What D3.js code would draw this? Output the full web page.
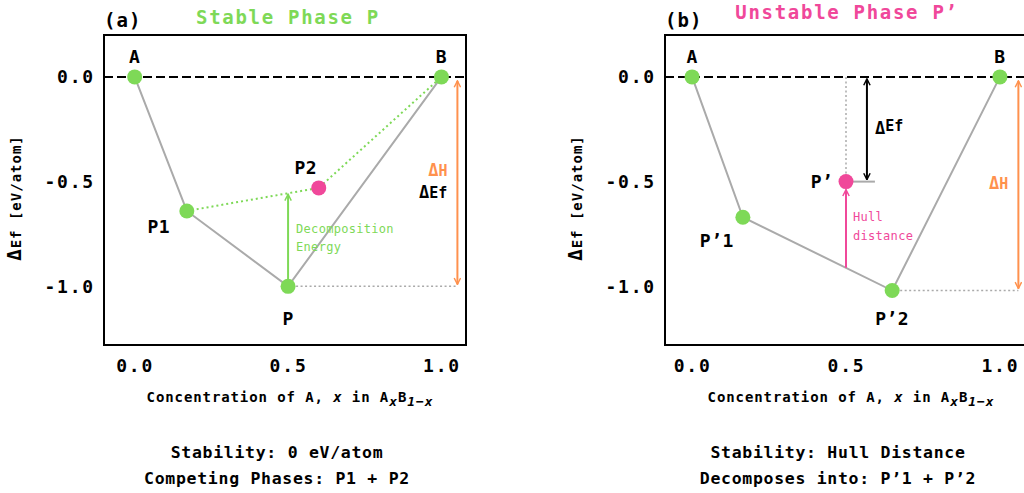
<!DOCTYPE html>
<html>
<head>
<meta charset="utf-8">
<script src="https://cdn.jsdelivr.net/npm/d3@7"></script>
<style>
  html, body { margin: 0; padding: 0; background: #ffffff; }
  svg { display: block; }
  text { font-family: "DejaVu Sans Mono", "Liberation Mono", monospace; font-weight: bold; }
</style>
</head>
<body>
<svg id="chart" width="1024" height="493"></svg>
<script>
// ---- data ----
// (a) stable phase P
const namesA = ["A", "P1", "P2", "P", "B"];
const xA = [0, 0.17, 0.6, 0.5, 1];
const yA = [0, -0.64, -0.53, -1.0, 0];
const hullA = ["A", "P1", "P", "B"];
const competingA = ["P1", "P2", "B"];
// (b) unstable phase P'
const namesB = ["A", "P’1", "P’", "P’2", "B"];
const xB = [0, 0.165, 0.5, 0.65, 1];
const yB = [0, -0.67, -0.5, -1.02, 0];
const hullB = ["A", "P’1", "P’2", "B"];
// axis ticks
const xTicks = [0, 0.5, 1.0];
const yTicks = [0, -0.5, -1.0];
// annotation positions (x in composition units)
const deltaHxA = 1.052;
const deltaHxB = 1.06;
const deltaEfxB = 0.568;

const GREEN = "#7ed957", PINK = "#f0489a", ORANGE = "#ff914d", GRAY = "#aaaaaa";

const svg = d3.select("#chart");
const defs = svg.append("defs");
function chevron(id, color) {
  defs.append("marker")
    .attr("id", id).attr("viewBox", "0 0 10 10")
    .attr("refX", 9).attr("refY", 5)
    .attr("markerWidth", 8).attr("markerHeight", 8)
    .attr("markerUnits", "userSpaceOnUse")
    .attr("orient", "auto-start-reverse")
    .append("path").attr("d", "M1,1 L9,5 L1,9")
    .attr("fill", "none").attr("stroke", color).attr("stroke-width", 1.8);
}
chevron("arrGreen", GREEN);
chevron("arrPink", PINK);
chevron("arrOrange", ORANGE);
chevron("arrBlack", "#000");

function pointsOf(names, xs, ys) {
  return names.map((n, i) => ({ name: n, x: xs[i], y: ys[i] }));
}

function drawPanel(opt) {
  const g = svg.append("g");
  const x = d3.scaleLinear().domain(opt.xDomain).range([opt.left, opt.left + 362]);
  const y = d3.scaleLinear().domain([-1.28, 0.2]).range([345, 35]);
  const pts = pointsOf(opt.names, opt.xs, opt.ys);
  const byName = new Map(pts.map(p => [p.name, p]));
  const line = d3.line().x(d => x(d.x)).y(d => y(d.y));

  // clip everything to the plot frame
  const clipId = "clip" + opt.tag;
  defs.append("clipPath").attr("id", clipId)
    .append("rect").attr("x", opt.left).attr("y", 35).attr("width", 362).attr("height", 310);
  const plot = g.append("g").attr("clip-path", `url(#${clipId})`);

  // y = 0 reference line
  plot.append("line")
    .attr("x1", x.range()[0]).attr("x2", x.range()[1])
    .attr("y1", y(0)).attr("y2", y(0))
    .attr("stroke", "#000").attr("stroke-width", 2).attr("stroke-dasharray", "9,4");

  // convex hull
  plot.append("path").datum(opt.hull.map(n => byName.get(n)))
    .attr("d", line).attr("fill", "none").attr("stroke", GRAY).attr("stroke-width", 2);

  opt.extra(plot, x, y, byName, line);

  // phase points
  plot.selectAll("circle.pt").data(pts).join("circle")
    .attr("class", "pt")
    .attr("cx", d => x(d.x)).attr("cy", d => y(d.y)).attr("r", 7.5)
    .attr("fill", d => opt.pink.includes(d.name) ? PINK : GREEN);

  // point labels
  g.selectAll("text.pl").data(pts).join("text")
    .attr("class", "pl")
    .attr("x", d => x(d.x) + opt.labelOff[d.name][0])
    .attr("y", d => y(d.y) + opt.labelOff[d.name][1])
    .attr("text-anchor", "middle").attr("dominant-baseline", "central")
    .attr("font-size", 18).attr("fill", "#000").attr("letter-spacing", 0.5)
    .text(d => d.name);

  // frame
  g.append("rect").attr("x", opt.left).attr("y", 35).attr("width", 362).attr("height", 310)
    .attr("fill", "none").attr("stroke", "#000").attr("stroke-width", 2);

  // tick labels (no tick marks)
  const xAxis = d3.axisBottom(x).tickValues(xTicks).tickFormat(d3.format(".1f")).tickSize(0).tickPadding(14);
  const gx = g.append("g").attr("transform", "translate(0,345)").call(xAxis);
  const yAxis = d3.axisLeft(y).tickValues(yTicks).tickFormat(d => d3.format(".1f")(d).replace("−", "-")).tickSize(0).tickPadding(9);
  const gy = g.append("g").attr("transform", `translate(${opt.left},0)`).call(yAxis);
  [gx, gy].forEach(a => {
    a.select(".domain").remove();
    a.selectAll("text").attr("font-size", 18).attr("letter-spacing", 1.8)
      .attr("font-family", "'DejaVu Sans Mono', monospace").attr("font-weight", "bold").attr("fill", "#000");
  });

  // x axis title
  const xt = g.append("text").attr("x", opt.left + 186).attr("y", 402)
    .attr("text-anchor", "middle").attr("font-size", 14).attr("letter-spacing", 0.9);
  xt.append("tspan").text("Concentration of A, ");
  xt.append("tspan").attr("font-style", "italic").text("x");
  xt.append("tspan").text(" in A");
  xt.append("tspan").attr("font-style", "italic").attr("dy", 4).attr("font-size", 13).text("x");
  xt.append("tspan").attr("dy", -4).text("B");
  xt.append("tspan").attr("font-style", "italic").attr("dy", 4).attr("font-size", 13).text("1−x");

  // y axis title
  const yt = g.append("text")
    .attr("transform", `translate(${opt.left - 83},198) rotate(-90)`)
    .attr("text-anchor", "middle").attr("font-size", 14).attr("letter-spacing", 1);
  yt.append("tspan").attr("font-size", 19).text("Δ");
  yt.append("tspan").attr("font-size", 14).text("Ef [eV/atom]");

  // panel tag and title
  g.append("text").attr("x", opt.left).attr("y", 27).attr("font-size", 19).attr("letter-spacing", 1).text(opt.tagText);
  g.append("text").attr("x", opt.titleX).attr("y", opt.titleY).attr("text-anchor", "middle")
    .attr("font-size", 19).attr("letter-spacing", 1.7).attr("fill", opt.titleColor).text(opt.title);

  // summary lines
  opt.summary.forEach((s, i) => {
    g.append("text").attr("x", opt.left + 173).attr("y", 458 + i * 26)
      .attr("text-anchor", "middle").attr("font-size", 16.5).attr("letter-spacing", 0.7).text(s);
  });
}

// ---- (a) ----
drawPanel({
  tag: "a", tagText: "(a)", left: 104, xDomain: [-0.1, 1.08],
  names: namesA, xs: xA, ys: yA, hull: hullA, pink: ["P2"],
  title: "Stable Phase P", titleColor: GREEN, titleX: 288, titleY: 24,
  labelOff: { "A": [0, -20], "B": [0, -20], "P1": [-28, 16], "P2": [-13, -20], "P": [0, 32] },
  summary: ["Stability: 0 eV/atom", "Competing Phases: P1 + P2"],
  extra(plot, x, y, byName, line) {
    const P = byName.get("P"), P1 = byName.get("P1"), P2 = byName.get("P2");
    // competing-phase tie line
    plot.append("path").datum(competingA.map(n => byName.get(n)))
      .attr("d", line).attr("fill", "none").attr("stroke", GREEN)
      .attr("stroke-width", 2).attr("stroke-dasharray", "2,3");
    // level of P, extended to the ΔH arrow
    plot.append("line").attr("x1", x(P.x) + 8).attr("x2", x(deltaHxA))
      .attr("y1", y(P.y)).attr("y2", y(P.y))
      .attr("stroke", GRAY).attr("stroke-width", 1.5).attr("stroke-dasharray", "2,2.5");
    // decomposition energy arrow up to the P1–P2 tie line
    const tieY = P1.y + (P.x - P1.x) / (P2.x - P1.x) * (P2.y - P1.y);
    plot.append("line").attr("x1", x(P.x)).attr("x2", x(P.x))
      .attr("y1", y(P.y)).attr("y2", y(tieY) + 1)
      .attr("stroke", GREEN).attr("stroke-width", 2).attr("marker-end", "url(#arrGreen)");
    const dt = plot.append("text").attr("fill", GREEN).attr("font-size", 12)
      .attr("letter-spacing", 0.3).style("font-weight", "normal");
    dt.append("tspan").attr("x", x(P.x) + 8).attr("y", 233).text("Decomposition");
    dt.append("tspan").attr("x", x(P.x) + 8).attr("y", 251).text("Energy");
    // ΔH arrow
    plot.append("line").attr("x1", x(deltaHxA)).attr("x2", x(deltaHxA))
      .attr("y1", y(0) + 4).attr("y2", y(P.y) - 2)
      .attr("stroke", ORANGE).attr("stroke-width", 2)
      .attr("marker-start", "url(#arrOrange)").attr("marker-end", "url(#arrOrange)");
    const hx = x(deltaHxA) - 10;
    const h = plot.append("text").attr("x", hx).attr("y", 176).attr("text-anchor", "end").attr("fill", ORANGE).attr("font-size", 17);
    h.append("tspan").text("Δ"); h.append("tspan").attr("font-size", 15).text("H");
    const e = plot.append("text").attr("x", hx).attr("y", 198).attr("text-anchor", "end").attr("fill", "#000").attr("font-size", 17);
    e.append("tspan").text("Δ"); e.append("tspan").attr("font-size", 15).text("Ef");
  }
});

// ---- (b) ----
drawPanel({
  tag: "b", tagText: "(b)", left: 665, xDomain: [-0.088, 1.088],
  names: namesB, xs: xB, ys: yB, hull: hullB, pink: ["P’"],
  title: "Unstable Phase P’", titleColor: PINK, titleX: 847, titleY: 19,
  labelOff: { "A": [0, -20], "B": [0, -20], "P’1": [-26, 23], "P’": [-24, 0], "P’2": [0, 28] },
  summary: ["Stability: Hull Distance", "Decomposes into: P’1 + P’2"],
  extra(plot, x, y, byName, line) {
    const Pp = byName.get("P’"), P1 = byName.get("P’1"), P2 = byName.get("P’2");
    // formation energy guide lines
    plot.append("line").attr("x1", x(Pp.x)).attr("x2", x(Pp.x))
      .attr("y1", y(0)).attr("y2", y(Pp.y))
      .attr("stroke", GRAY).attr("stroke-width", 1.5).attr("stroke-dasharray", "2,2.5");
    plot.append("line").attr("x1", x(Pp.x)).attr("x2", x(deltaEfxB) + 8)
      .attr("y1", y(Pp.y)).attr("y2", y(Pp.y))
      .attr("stroke", GRAY).attr("stroke-width", 2);
    plot.append("line").attr("x1", x(deltaEfxB)).attr("x2", x(deltaEfxB))
      .attr("y1", y(0) + 2).attr("y2", y(Pp.y) - 2)
      .attr("stroke", "#000").attr("stroke-width", 2)
      .attr("marker-start", "url(#arrBlack)").attr("marker-end", "url(#arrBlack)");
    const e = plot.append("text").attr("x", x(deltaEfxB) + 8).attr("y", 134).attr("fill", "#000").attr("font-size", 17);
    e.append("tspan").text("Δ"); e.append("tspan").attr("font-size", 15).attr("dy", -3).text("Ef");
    // hull distance arrow from the hull up to P'
    const hullY = P1.y + (Pp.x - P1.x) / (P2.x - P1.x) * (P2.y - P1.y);
    plot.append("line").attr("x1", x(Pp.x)).attr("x2", x(Pp.x))
      .attr("y1", y(hullY)).attr("y2", y(Pp.y) + 8)
      .attr("stroke", PINK).attr("stroke-width", 2).attr("marker-end", "url(#arrPink)");
    const ht = plot.append("text").attr("fill", PINK).attr("font-size", 12)
      .attr("letter-spacing", 0.3).style("font-weight", "normal");
    ht.append("tspan").attr("x", x(Pp.x) + 7).attr("y", 221).text("Hull");
    ht.append("tspan").attr("x", x(Pp.x) + 7).attr("y", 240).text("distance");
    // level of P'2, extended to the ΔH arrow
    plot.append("line").attr("x1", x(P2.x) + 8).attr("x2", x(deltaHxB))
      .attr("y1", y(P2.y)).attr("y2", y(P2.y))
      .attr("stroke", GRAY).attr("stroke-width", 1.5).attr("stroke-dasharray", "2,2.5");
    plot.append("line").attr("x1", x(deltaHxB)).attr("x2", x(deltaHxB))
      .attr("y1", y(0) + 4).attr("y2", y(P2.y) - 2)
      .attr("stroke", ORANGE).attr("stroke-width", 2)
      .attr("marker-start", "url(#arrOrange)").attr("marker-end", "url(#arrOrange)");
    const h = plot.append("text").attr("x", x(deltaHxB) - 10).attr("y", 189).attr("text-anchor", "end").attr("fill", ORANGE).attr("font-size", 17);
    h.append("tspan").text("Δ"); h.append("tspan").attr("font-size", 15).text("H");
  }
});
</script>
</body>
</html>
